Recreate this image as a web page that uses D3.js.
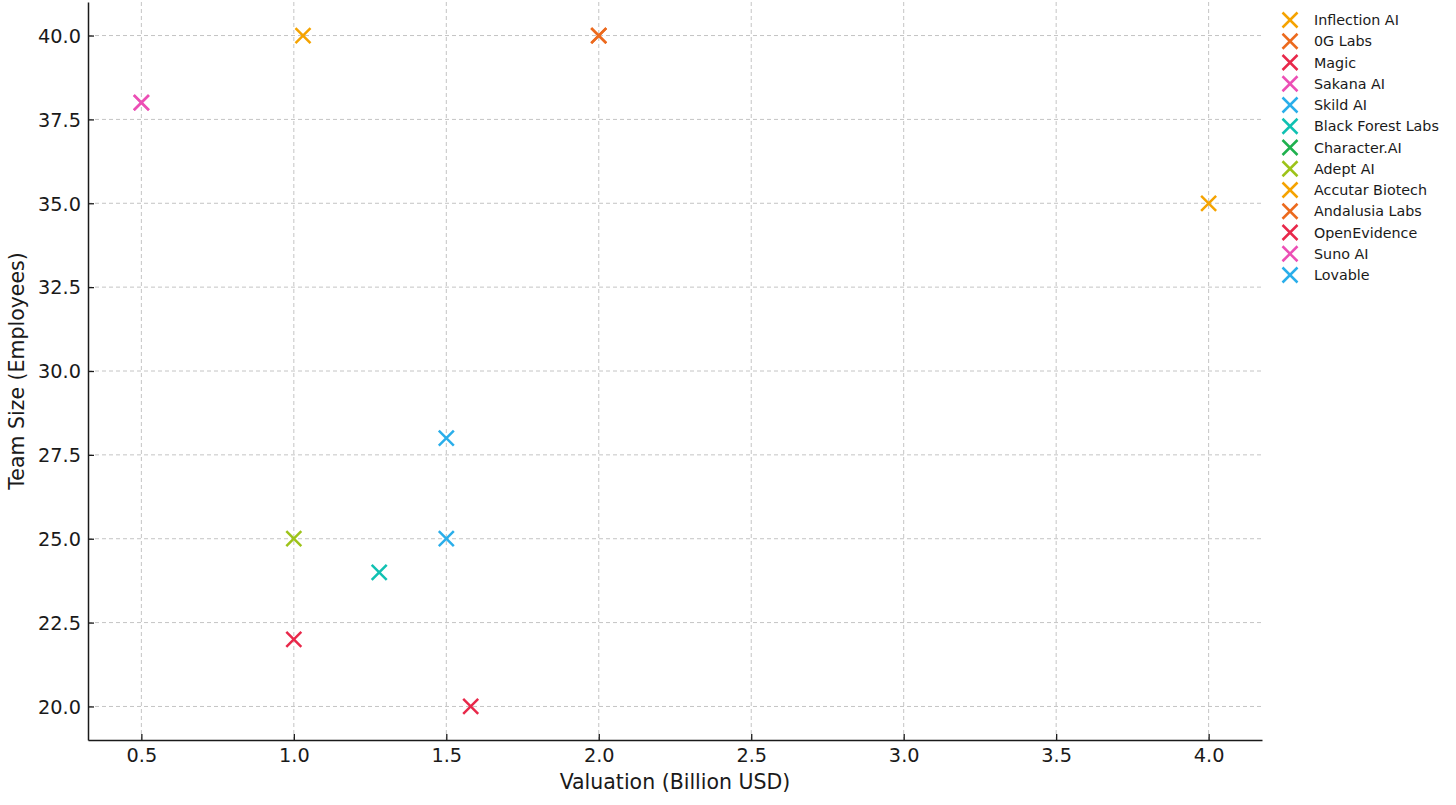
<!DOCTYPE html>
<html><head><meta charset="utf-8">
<script src="https://cdn.jsdelivr.net/npm/d3@7/dist/d3.min.js"></script>
<style>body{margin:0;background:#fff;} text{font-family:"DejaVu Sans",sans-serif;}</style>
</head><body><svg id="c" width="1456" height="805"></svg>
<script>
const companies = ["Inflection AI","0G Labs","Magic","Sakana AI","Skild AI","Black Forest Labs","Character.AI","Adept AI","Accutar Biotech","Andalusia Labs","OpenEvidence","Suno AI","Lovable"];
const valuations = [1.03, 2.0, 1.58, 0.5, 1.5, 1.28, null, 1.0, 4.0, 2.0, 1.0, 0.5, 1.5];
const teamSizes  = [40, 40, 20, 38, 25, 24, null, 25, 35, 40, 22, 38, 28];
const colors = ["#F5A300","#EC6A1E","#E8284A","#EC4FB5","#2AAEEA","#10C1B2","#1FB14E","#9DC319","#F5A300","#EC6A1E","#E8284A","#EC4FB5","#2AAEEA"];
const xTicks = [0.5,1.0,1.5,2.0,2.5,3.0,3.5,4.0];
const yTicks = [20,22.5,25,27.5,30,32.5,35,37.5,40];

const svg = d3.select("#c");
const L=88, R=1262, T=2, B=740;
const x = d3.scaleLinear().domain([0.325,4.175]).range([L,R]);
const y = d3.scaleLinear().domain([19,41]).range([B,T]);

// grid
svg.append("g").selectAll("line").data(xTicks).join("line")
  .attr("x1",d=>x(d)).attr("x2",d=>x(d)).attr("y1",T).attr("y2",B)
  .attr("stroke","#c4c4c4").attr("stroke-width",1).attr("stroke-dasharray","4,3");
svg.append("g").selectAll("line").data(yTicks).join("line")
  .attr("y1",d=>y(d)).attr("y2",d=>y(d)).attr("x1",L).attr("x2",R)
  .attr("stroke","#c4c4c4").attr("stroke-width",1).attr("stroke-dasharray","4,3");

// axes
const xAxis = d3.axisBottom(x).tickValues(xTicks).tickFormat(d3.format(".1f")).tickSizeInner(-6).tickSizeOuter(0).tickPadding(8);
const yAxis = d3.axisLeft(y).tickValues(yTicks).tickFormat(d3.format(".1f")).tickSizeInner(-6).tickSizeOuter(0).tickPadding(7);
const gx = svg.append("g").attr("transform",`translate(0,${B})`).call(xAxis);
const gy = svg.append("g").attr("transform",`translate(${L},0)`).call(yAxis);
[gx,gy].forEach(g=>{
  g.selectAll("text").attr("font-size",19.3).attr("fill","#1a1a1a").style("font-family","DejaVu Sans");
  g.selectAll("line").attr("stroke","#1a1a1a").attr("stroke-width",1.3);
  g.select(".domain").attr("stroke","#1a1a1a").attr("stroke-width",1.5);
});
gy.selectAll("text").attr("dy","0.35em");

// labels
svg.append("text").attr("x",(L+R)/2).attr("y",789).attr("text-anchor","middle")
  .attr("font-size",20.5).attr("fill","#1a1a1a").text("Valuation (Billion USD)");
svg.append("text").attr("transform",`translate(24,${(T+B)/2}) rotate(-90)`).attr("text-anchor","middle")
  .attr("font-size",20.5).attr("fill","#1a1a1a").text("Team Size (Employees)");

// markers
const pts = companies.map((c,i)=>({c, v:valuations[i], t:teamSizes[i], col:colors[i]})).filter(d=>d.v!=null);
const s=7.5;
const xmark = (g, col)=>{
  g.append("line").attr("x1",-s).attr("y1",-s).attr("x2",s).attr("y2",s).attr("stroke",col).attr("stroke-width",2.5);
  g.append("line").attr("x1",-s).attr("y1",s).attr("x2",s).attr("y2",-s).attr("stroke",col).attr("stroke-width",2.5);
};
pts.forEach(d=>{
  const g = svg.append("g").attr("transform",`translate(${x(d.v)},${y(d.t)})`);
  xmark(g,d.col);
});

// legend
const lg = svg.append("g");
companies.forEach((c,i)=>{
  const yy = 20 + i*21.25;
  const g = lg.append("g").attr("transform",`translate(1290,${yy})`);
  xmark(g, colors[i]);
  lg.append("text").attr("x",1314).attr("y",yy).attr("dy","0.35em").attr("font-size",14.3).attr("fill","#1a1a1a").text(c);
});
</script></body></html>
